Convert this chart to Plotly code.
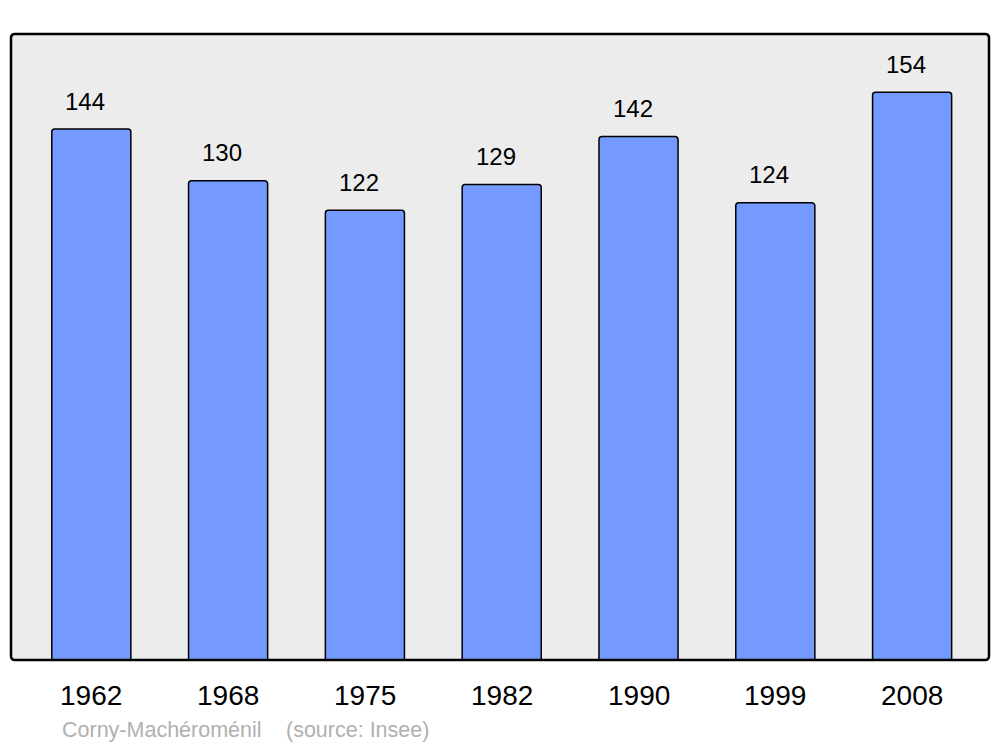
import plotly.graph_objects as go

years = ["1962", "1968", "1975", "1982", "1990", "1999", "2008"]
population = [144, 130, 122, 129, 142, 124, 154]
footer_name = "Corny-Machéroménil"
footer_source = "(source: Insee)"

W, H = 1000, 747
L, R, T, B = 11, 989, 34, 660
pw, ph = R - L, B - T

xpos = list(range(len(years)))
FONT = "Liberation Sans, Arial, sans-serif"

fig = go.Figure()
fig.add_trace(go.Bar(
    x=xpos, y=population, width=0.578,
    marker=dict(color="#7499ff", line=dict(color="#000000", width=1.5)),
    hoverinfo="skip",
))

for i, v in enumerate(population):
    fig.add_annotation(x=i, y=v, text=str(v), showarrow=False,
                       xshift=-6, yshift=28, yanchor="middle", xanchor="center",
                       font=dict(size=24, color="#000000", family=FONT))

for i, yr in enumerate(years):
    fig.add_annotation(x=i, y=0, text=yr, showarrow=False,
                       yshift=-35, yanchor="middle", xanchor="center",
                       font=dict(size=28, color="#000000", family=FONT))

for px, txt in [(60, footer_name), (284, footer_source)]:
    fig.add_annotation(x=(px - L) / pw, y=(B - 730) / ph, xref="paper", yref="paper",
                       yanchor="middle", xanchor="left", showarrow=False, text=txt,
                       font=dict(size=21.5, color="#b0b0b0", family=FONT))

# rounded frame
rx, ry = 4 / pw, 4 / ph
path = (f"M {rx},0 L {1-rx},0 Q 1,0 1,{ry} L 1,{1-ry} Q 1,1 {1-rx},1 "
        f"L {rx},1 Q 0,1 0,{1-ry} L 0,{ry} Q 0,0 {rx},0 Z")
fig.add_shape(type="path", path=path, xref="paper", yref="paper",
              line=dict(color="#000000", width=2.5), layer="above")

fig.update_layout(
    width=W, height=H,
    margin=dict(l=L, r=W - R, t=T, b=H - B, pad=0),
    paper_bgcolor="#ffffff", plot_bgcolor="#ececec",
    showlegend=False,
    barcornerradius=3,
    xaxis=dict(range=[-0.587, 6.562], showticklabels=False, showgrid=False,
               zeroline=False, showline=False, ticks=""),
    yaxis=dict(range=[0, 169.8], showticklabels=False, showgrid=False,
               zeroline=False, showline=False, ticks=""),
)

fig.write_html("out.html", config={"displayModeBar": False, "staticPlot": True},
               post_script="document.body.style.margin='0';document.body.style.overflow='hidden';document.documentElement.style.overflow='hidden';")
